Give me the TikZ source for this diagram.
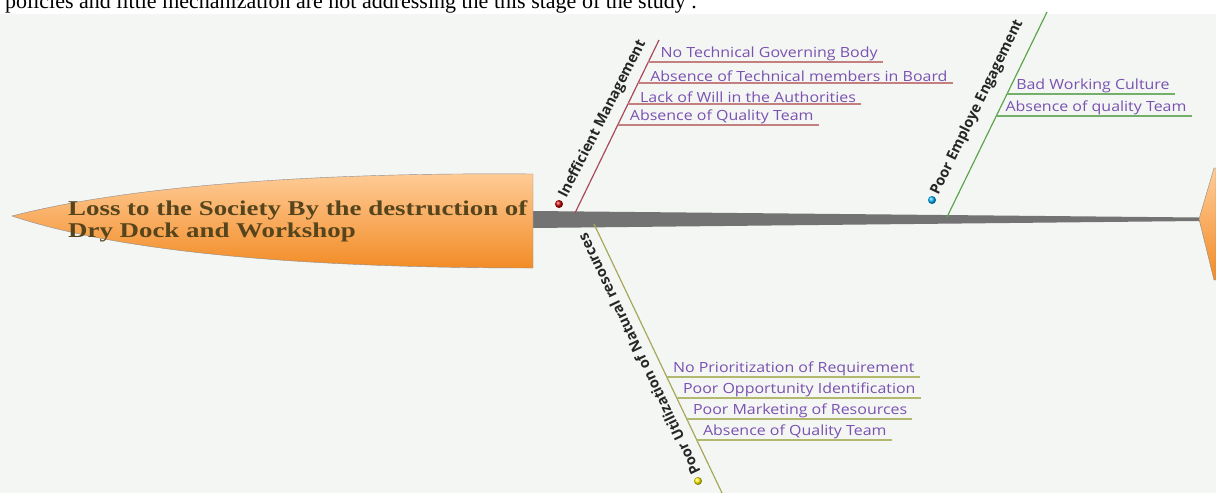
\documentclass[tikz,border=0pt]{standalone}
\usepackage{fontspec}
\setmainfont{Liberation Serif}
\setsansfont{Open Sans}
\newfontfamily\itemsans[FakeStretch=1.14]{Open Sans}
\newfontfamily\headserif[FakeStretch=1.28]{Liberation Serif}
\usetikzlibrary{calc}

\definecolor{bgpaper}{HTML}{F4F6F4}
\definecolor{spinegray}{HTML}{737373}
\definecolor{headlight}{HTML}{FFCC98}
\definecolor{headdark}{HTML}{F28C26}
\definecolor{headtext}{HTML}{55441C}
\definecolor{itempurple}{HTML}{7A52B0}
\definecolor{imline}{HTML}{A84A5C}
\definecolor{imsub}{HTML}{C4807E}
\definecolor{peline}{HTML}{5EA64E}
\definecolor{pesub}{HTML}{74B06A}
\definecolor{puline}{HTML}{A6A85A}
\definecolor{pusub}{HTML}{B2B86E}

\tikzstyle{item}=[font=\itemsans\fontsize{14}{16}\selectfont, text=itempurple, inner sep=1pt, anchor=south west]
\tikzstyle{branch}=[font=\sffamily\bfseries\fontsize{14.5}{16}\selectfont, text=black!85, inner sep=0pt, anchor=west]
\tikzstyle{bullet}=[circle, minimum size=8pt, inner sep=0pt]
\tikzstyle{bone}=[line width=1.2pt]
\tikzstyle{sub}=[line width=1.6pt]
\tikzstyle{fishhead}=[draw=black!45, thin, top color=headlight, bottom color=headdark]

\begin{document}
\begin{tikzpicture}[x=1pt, y=-1pt]
  \useasboundingbox (0,0) rectangle (1216,493);
  \clip (0,0) rectangle (1216,493);
  \fill[bgpaper] (0,14) rectangle (1216,493);
  \node[font=\fontsize{22}{24}\selectfont, anchor=base west, inner sep=0pt] (intro) at (5,8)
    {policies and little mechanization are not addressing the this stage of the study .};

  \fill[spinegray] (533,211) -- (1199,217.5) -- (1199,221) -- (533,228) -- cycle;
  \draw[fishhead] (533,174) -- (533,268)
    .. controls (300,268) and (120,252) .. (12,216)
    .. controls (120,188) and (300,172) .. (533,174) -- cycle;
  \node[font=\headserif\bfseries\fontsize{21}{22}\selectfont, text=headtext, align=left, anchor=base west, inner sep=0pt] (head) at (68,237)
    {Loss to the Society By the destruction of\\Dry Dock and Workshop};
  \draw[fishhead] (1199,219) -- (1214,168) -- (1216,168) -- (1216,280) -- (1214,280) -- cycle;

  \coordinate (im-root) at (575,213);
  \coordinate (im-top) at (659,40);
  \draw[bone, imline] (im-root) -- (im-top);
  \node[bullet, ball color=red!80!black] (im-dot) at (559,204) {};
  \node[branch, rotate=63] (im-label) at (563,197) {Inefficient Management};
  \foreach \y/\txt [count=\i] in {62/No Technical Governing Body, 83/Absence of Technical members in Board,
      104/Lack of Will in the Authorities, 125/Absence of Quality Team} {
    \coordinate (im-a\i) at (intersection of im-root--im-top and 0,\y--10,\y);
    \node[item] (im-\i) at ([xshift=11]im-a\i) {\txt};
    \draw[sub, imsub] (im-a\i) -- ($(im-a\i -| im-\i.east)+(4,0)$);
  }

  \coordinate (pe-root) at (947,217);
  \coordinate (pe-top) at (1047,12);
  \draw[bone, peline] (pe-root) -- (pe-top);
  \node[bullet, ball color=cyan!70!blue] (pe-dot) at (932,200) {};
  \node[branch, rotate=64] (pe-label) at ($(pe-root)+(-12,-23)$) {Poor Employe Engagement};
  \foreach \y/\txt [count=\i] in {94/Bad Working Culture, 116/Absence of quality Team} {
    \coordinate (pe-a\i) at (intersection of pe-root--pe-top and 0,\y--10,\y);
    \node[item] (pe-\i) at ([xshift=8]pe-a\i) {\txt};
    \draw[sub, pesub] (pe-a\i) -- ($(pe-a\i -| pe-\i.east)+(4,0)$);
  }

  \coordinate (pu-root) at (594,224);
  \coordinate (pu-end) at (722,493);
  \draw[bone, puline] (pu-root) -- (pu-end);
  \node[bullet, ball color=yellow!90!orange] (pu-dot) at (698,481) {};
  \node[branch, rotate=115.5] (pu-label) at (696,474) {Poor Utilization of Natural resources};
  \foreach \y/\txt [count=\i] in {377/No Prioritization of Requirement, 398/Poor Opportunity Identification,
      419/Poor Marketing of Resources, 440/Absence of Quality Team} {
    \coordinate (pu-a\i) at (intersection of pu-root--pu-end and 0,\y--10,\y);
    \node[item] (pu-\i) at ([xshift=5]pu-a\i) {\txt};
    \draw[sub, pusub] (pu-a\i) -- ($(pu-a\i -| pu-\i.east)+(4,0)$);
  }
\end{tikzpicture}
\end{document}
